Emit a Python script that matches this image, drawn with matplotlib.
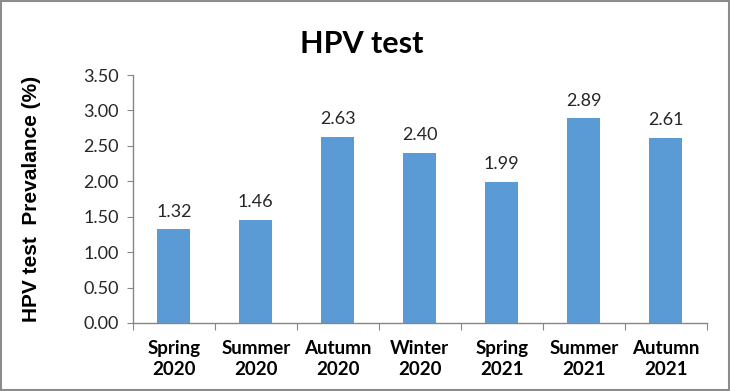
import numpy as np
import matplotlib.pyplot as plt
from matplotlib.patches import Rectangle

# data
seasons = ["Spring\n2020", "Summer\n2020", "Autumn\n2020", "Winter\n2020",
           "Spring\n2021", "Summer\n2021", "Autumn\n2021"]
prevalence = [1.32, 1.46, 2.63, 2.40, 1.99, 2.89, 2.61]
y_ticks = [0.0, 0.5, 1.0, 1.5, 2.0, 2.5, 3.0, 3.5]

bar_color = '#5B9BD5'
axis_color = '#868686'
text_font = ['Lato', 'DejaVu Sans']

fig = plt.figure(figsize=(7.30, 3.91), dpi=100)
ax = fig.add_axes([0.182, 0.174, 0.786, 0.634])

x = np.arange(len(seasons))
bars = ax.bar(x, prevalence, width=0.4, color=bar_color, zorder=2)

# value labels above bars
for xi, v in zip(x, prevalence):
    ax.annotate(f"{v:.2f}", (xi, v), xytext=(0, 7), textcoords='offset points',
                ha='center', va='bottom', fontsize=13, family=text_font, color='#262626')

ax.set_xlim(-0.5, len(seasons) - 0.5)
ax.set_ylim(0, 3.5)
ax.set_yticks(y_ticks)
ax.set_yticklabels([f"{t:.2f}" for t in y_ticks], fontsize=13, family=text_font, color='#262626')

# ticks between categories, labels at the centres
ax.set_xticks(np.arange(len(seasons) + 1) - 0.5)
ax.set_xticklabels([])
ax.set_xticks(x, minor=True)
ax.set_xticklabels(seasons, minor=True, fontsize=13.5, fontweight='bold', family=text_font,
                   linespacing=1.3)
ax.tick_params(axis='x', which='minor', length=0, pad=12)
ax.tick_params(axis='x', which='major', length=5, color=axis_color, direction='out')
ax.tick_params(axis='y', length=4, color=axis_color, pad=6)

for side in ['top', 'right']:
    ax.spines[side].set_visible(False)
for side in ['left', 'bottom']:
    ax.spines[side].set_color(axis_color)
    ax.spines[side].set_linewidth(1.0)

ax.set_ylabel("HPV test  Prevalance (%)", fontsize=15, fontweight='bold',
              family=['Liberation Sans', 'DejaVu Sans'])
ax.yaxis.set_label_coords(-0.16, 0.5)

fig.text(0.496, 0.888, "HPV test", ha='center', va='center', fontsize=22,
         fontweight='bold', family=text_font)

# outer frame of the chart
fig.patches.append(Rectangle((0.002, 0.003), 0.996, 0.994, transform=fig.transFigure,
                             fill=False, edgecolor='#8C8C8C', linewidth=1.5))

fig.savefig('out.png', dpi=100)
